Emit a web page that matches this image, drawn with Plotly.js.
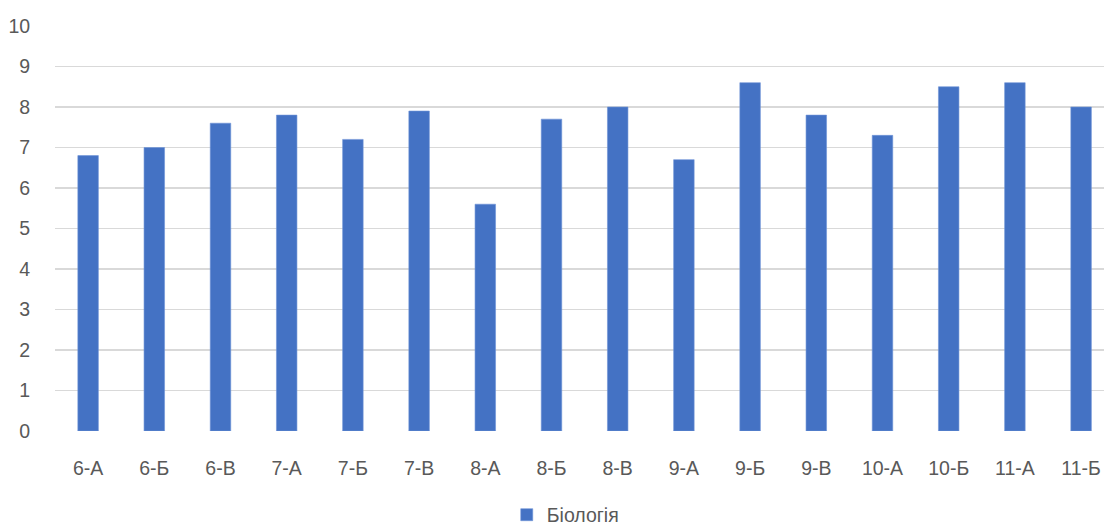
<!DOCTYPE html>
<html><head><meta charset="utf-8">
<script src="https://cdn.plot.ly/plotly-3.0.1.min.js"></script>
<style>html,body{margin:0;padding:0;background:#fff;overflow:hidden}#c{width:1104px;height:525px}</style>
</head><body><div id="c"></div>
<script>
const categories = ["6-А","6-Б","6-В","7-А","7-Б","7-В","8-А","8-Б","8-В","9-А","9-Б","9-В","10-А","10-Б","11-А","11-Б"];
const biology = [6.8,7.0,7.6,7.8,7.2,7.9,5.6,7.7,8.0,6.7,8.6,7.8,7.3,8.5,8.6,8.0];
const seriesName = "Біологія";
const yTicks = [0,1,2,3,4,5,6,7,8,9,10];

const font = {family:"Liberation Sans, Arial, sans-serif", size:19.5, color:"#595959"};
Plotly.newPlot("c", [{
  type:"bar", x:categories.map((c,i)=>i), y:biology, name:seriesName,
  marker:{color:"#4472C4", line:{color:"#6f93d6", width:0.6}}, width:0.31,
  showlegend:true
}], {
  width:1104, height:525,
  margin:{l:55, r:0, t:26, b:94},
  paper_bgcolor:"#fff", plot_bgcolor:"#fff",
  font:font,
  bargap:0.69,
  xaxis:{range:[-0.5,15.346], tickmode:"array", tickvals:categories.map((c,i)=>i), ticktext:categories,
    showgrid:false, zeroline:false, showline:false, ticks:"outside", ticklen:20, tickcolor:"rgba(0,0,0,0)", tickfont:font, fixedrange:true},
  yaxis:{range:[0,10], tickmode:"array", tickvals:yTicks, showgrid:true, gridcolor:"#d9d9d9", gridwidth:1.3,
    zeroline:false, showline:false, ticks:"outside", ticklen:20, tickcolor:"rgba(0,0,0,0)", tickfont:font, fixedrange:true},
  legend:{orientation:"h", xref:"container", x:0.512, xanchor:"center", yref:"container", y:0.019, yanchor:"middle", font:font, itemwidth:30},
  showlegend:true
}, {displayModeBar:false, staticPlot:true});
</script></body></html>
